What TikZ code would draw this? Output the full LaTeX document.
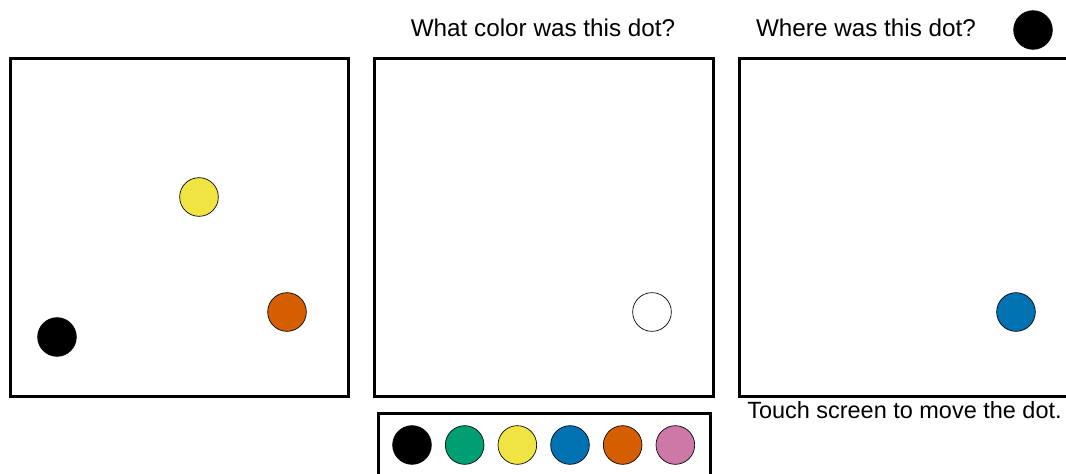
\documentclass[tikz,border=0pt]{standalone}
\usepackage{fontspec}
\setmainfont{Liberation Sans}
\usetikzlibrary{positioning}
\definecolor{dotyellow}{RGB}{240,228,66}
\definecolor{dotorange}{RGB}{213,94,0}
\definecolor{dotblue}{RGB}{0,114,178}
\definecolor{dotgreen}{RGB}{0,158,115}
\definecolor{dotpink}{RGB}{204,121,167}
\begin{document}
\begin{tikzpicture}[
    x=0.75pt, y=-0.75pt,
    every node/.style={font=\fontsize{18.2}{21}\selectfont},
    panel/.style={draw, line width=2.25pt, minimum size=254pt, inner sep=0pt, outer sep=0pt},
    dot/.style={circle, draw=black, line width=0.5pt, minimum size=29pt, inner sep=0pt, outer sep=0pt},
    node distance=10.5pt
  ]
    \useasboundingbox (0,0) rectangle (1066,474);
    \clip (0,0) rectangle (1066,474);

    % three screens
    \node[panel] (study) at (179.5,227.5) {};
    \node[panel] (colorq) at (544,227.5) {};
    \node[panel] (whereq) at (908.5,227.5) {};

    % study screen
    \node[dot, fill=dotyellow] (syellow) at (199,197) {};
    \node[dot, fill=dotorange] (sorange) at (287,312) {};
    \node[dot, fill=black] (sblack) at (57,337) {};

    % colour question
    \node (colortxt) at (543,28) {What color was this dot?};
    \node[dot, fill=white] (cprobe) at (652,312) {};
    \node[draw, line width=2.25pt, minimum width=249pt, minimum height=48pt, inner sep=0pt] (palette) at (544,445) {};
    \node[dot, fill=black] (pblack) at (412,445) {};
    \node[dot, fill=dotgreen, right=of pblack] (pgreen) {};
    \node[dot, fill=dotyellow, right=of pgreen] (pyellow) {};
    \node[dot, fill=dotblue, right=of pyellow] (pblue) {};
    \node[dot, fill=dotorange, right=of pblue] (porange) {};
    \node[dot, fill=dotpink, right=of porange] (ppink) {};

    % location question
    \node (wheretxt) at (866,28) {Where was this dot?};
    \node[dot, fill=black] (wtarget) at (1033,30) {};
    \node[dot, fill=dotblue] (wprobe) at (1016,312) {};
    \node[anchor=west, inner sep=0pt, font=\fontsize{17.6}{21}\selectfont] (touchtxt) at (747,410) {Touch screen to move the dot.};
  \end{tikzpicture}
\end{document}
